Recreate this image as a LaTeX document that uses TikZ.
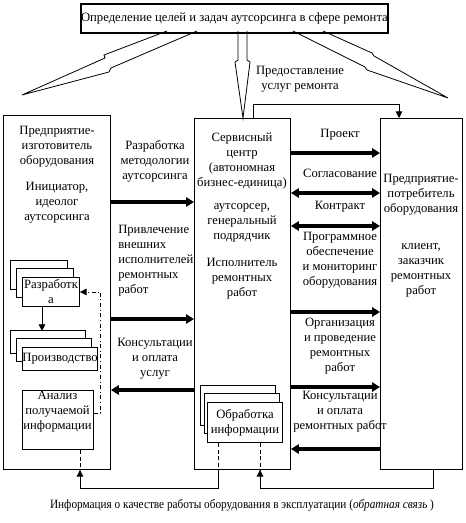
\documentclass[tikz,border=0pt]{standalone}
\usepackage{fontspec}
\setmainfont{Liberation Serif}
\usetikzlibrary{positioning,arrows.meta,shadows}

\begin{document}
\begin{tikzpicture}[
    x=0.75pt, y=-0.75pt,
    every node/.style={font=\fontsize{9.5}{11.2}\selectfont},
    txt/.style    ={align=center, inner sep=0pt},
    bigbox/.style ={draw, line width=0.7pt, anchor=north west, inner sep=0pt},
    subbox/.style ={draw, line width=0.7pt, fill=white, anchor=north west,
                    inner sep=0pt, align=center},
    stackL/.style ={copy shadow={shadow xshift=-9pt, shadow yshift=12.8pt, draw},
                    copy shadow={shadow xshift=-4.5pt, shadow yshift=6.4pt, draw}},
    stackR/.style ={copy shadow={shadow xshift=-5.2pt, shadow yshift=12.8pt, draw},
                    copy shadow={shadow xshift=-2.6pt, shadow yshift=6.4pt, draw}},
    flow/.style   ={line width=2.4pt, -{Triangle[length=6pt,width=7pt]}},
    flowboth/.style={line width=2.4pt, {Triangle[length=6pt,width=7pt]}-{Triangle[length=6pt,width=7pt]}},
    link/.style   ={line width=0.7pt, -{Triangle[length=5pt,width=5pt]}},
    dsh/.style    ={line width=0.7pt, dash pattern=on 3pt off 2pt},
    hollow/.style ={line width=0.6pt},
]
\useasboundingbox (0,0) rectangle (465,523);

% top box
\node[draw, line width=1.6pt, anchor=north west, minimum width=227pt,
      minimum height=21.75pt, inner sep=0pt] (goal) at (80,3)
      {Определение целей и задач аутсорсинга в сфере ремонта};

% main boxes
\node[bigbox, minimum width=80.25pt, minimum height=265.5pt]  (manuf)  at (3,115)   {};
\node[bigbox, minimum width=72pt,    minimum height=263.25pt] (serv)   at (194,118) {};
\node[bigbox, minimum width=61.5pt,  minimum height=263.25pt] (client) at (380,118) {};

% hollow arrows from the top box
\draw[hollow] (167,31) -- (104,55) -- (105,58) -- (22,95) -- (109,72)
              -- (111,68) -- (197,31);
\draw[hollow] (238,31) -- (238,60) -- (235,62) -- (243,118) -- (250,62)
              -- (247,60) -- (247,31);
\draw[hollow] (293,31) -- (365,67) -- (367,70) -- (448,98) -- (374,56)
              -- (372,53) -- (323,31);
\node[txt] (uslug) at (300,79) {Предоставление\\услуг ремонта};

% texts in the boxes
\node[txt] (manuft1) at (57,147)  {Предприятие-\\изготовитель\\оборудования};
\node[txt] (manuft2) at (57,203)  {Инициатор,\\идеолог\\аутсорсинга};
\node[txt] (servt1)  at (242,161) {Сервисный\\центр\\(автономная\\бизнес-единица)};
\node[txt] (servt2)  at (242,223) {аутсорсер,\\генеральный\\подрядчик};
\node[txt] (servt3)  at (242,279) {Исполнитель\\ремонтных\\работ};
\node[txt] (clientt1) at (421,195) {Предприятие-\\потребитель\\оборудования};
\node[txt] (clientt2) at (421,270) {клиент,\\заказчик\\ремонтных\\работ};

% inner boxes, left
\node[subbox, stackL, minimum width=42.75pt, minimum height=21.75pt] (razrab) at (22,277)
      {Разработк\\а};
\node[subbox, stackL, minimum width=54.75pt, minimum height=17.25pt] (proizv) at (22,347)
      {Производство};
\node[subbox, minimum width=53.25pt, minimum height=44.25pt] (analiz) at (22,390) {};
\node[txt] (analizt) at (57.5,412) {Анализ\\получаемой\\информации};

\draw[link] (razrab.south -| 42,0) -- ++(0,24);
\draw[link, dash dot] (analiz.east |- 0,413) -- ++(7,0) |- (razrab.east);

% inner box, centre
\node[subbox, stackR, minimum width=56.25pt, minimum height=30pt] (obrab) at (207,402)
      {Обработка\\информации};

% flows between manufacturer and service centre
\node[txt] (metod)  at (155,161) {Разработка\\методологии\\аутсорсинга};
\node[txt, align=left, anchor=west] (privl) at (118,261)
      {Привлечение\\внешних\\исполнителей\\ремонтных\\работ};
\node[txt] (konsA)  at (155,359) {Консультации\\и оплата\\услуг};
\draw[flow] (manuf.east |- 0,202) -- (serv.west |- 0,202);
\draw[flow] (manuf.east |- 0,319) -- (serv.west |- 0,319);
\draw[flow] (serv.west |- 0,390)  -- (manuf.east |- 0,390);

% flows between service centre and client
\node[txt] (proekt) at (340,135) {Проект};
\node[txt] (soglas) at (340,173) {Согласование};
\node[txt] (kontr)  at (340,207) {Контракт};
\node[txt] (progr)  at (340,260) {Программное\\обеспечение\\и мониторинг\\оборудования};
\node[txt] (organ)  at (340,346) {Организация\\и проведение\\ремонтных\\работ};
\node[txt] (konsB)  at (340,412) {Консультации\\и оплата\\ремонтных работ};
\draw[flow]     (serv.east |- 0,153) -- (client.west |- 0,153);
\draw[flowboth] (serv.east |- 0,193) -- (client.west |- 0,193);
\draw[flowboth] (serv.east |- 0,226) -- (client.west |- 0,226);
\draw[flow]     (serv.east |- 0,312) -- (client.west |- 0,312);
\draw[flow]     (serv.east |- 0,387) -- (client.west |- 0,387);
\draw[flow]     (client.west |- 0,449) -- (serv.east |- 0,449);

% service centre -> client (top)
\draw[link] (serv.north -| 253,0) -- ++(0,-14) -| (client.north -| 399,0);

% feedback
\draw[dsh] (analiz.south -| 80,0)  -- (manuf.south -| 80,0);
\draw[dsh] (obrab.south -| 218,0)  -- (serv.south -| 218,0);
\draw[dsh] (obrab.south -| 260,0)  -- (serv.south -| 260,0);
\draw[link] (serv.south -| 218,0)   -- ++(0,19) -| (manuf.south -| 80,0);
\draw[link] (client.south -| 433,0) -- ++(0,19) -| (serv.south -| 260,0);
\node[txt] (feedback) at (242,505)
      {\scalebox{0.89}[1]{Информация о качестве работы оборудования в эксплуатации (\textit{обратная связь} )}};

\end{tikzpicture}
\end{document}
